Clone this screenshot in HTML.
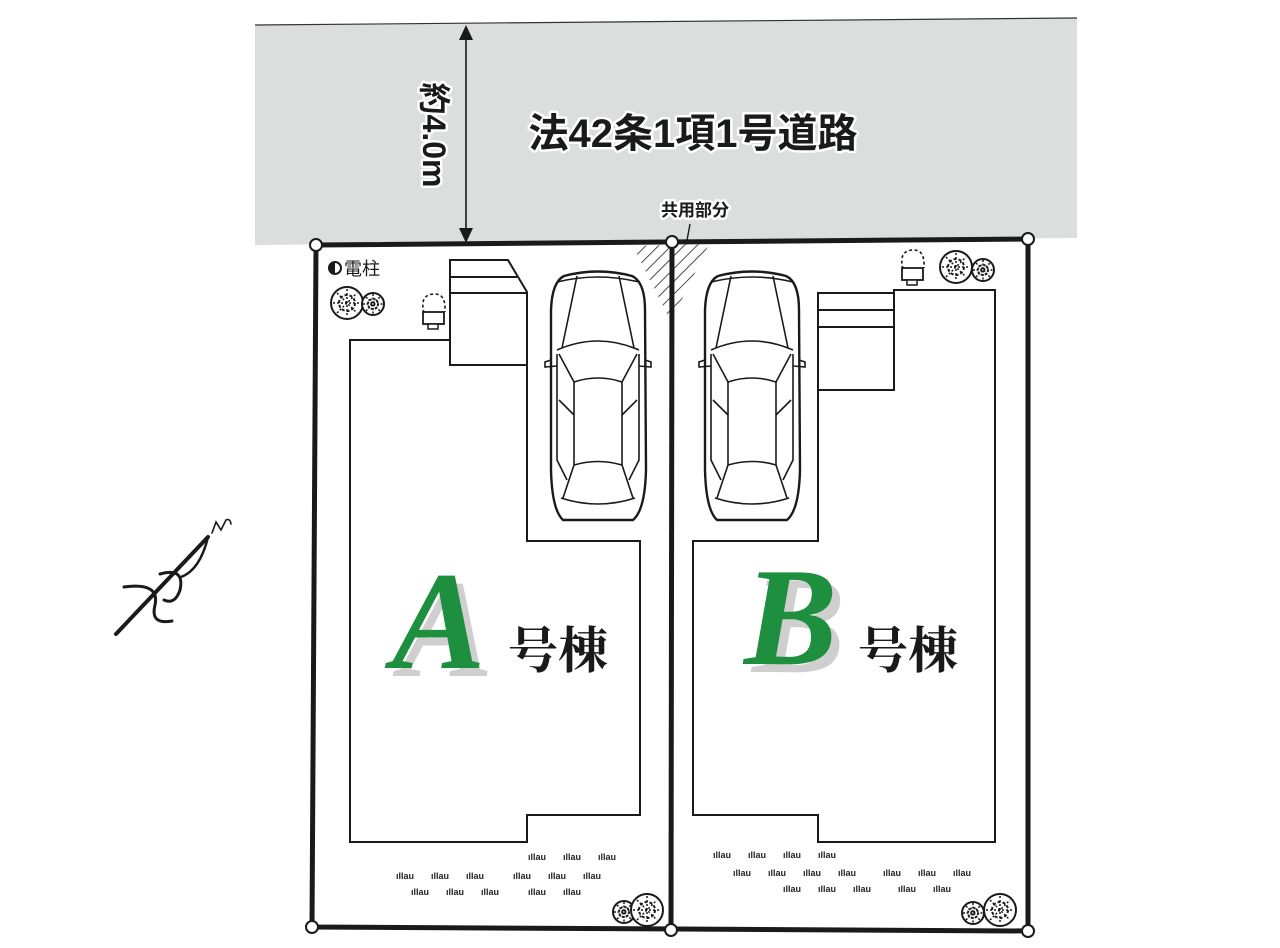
<!DOCTYPE html>
<html><head><meta charset="utf-8"><style>
html,body{margin:0;padding:0;background:#fff;}
svg{display:block;}
.t{font-family:"Liberation Sans","Noto Sans CJK JP",sans-serif;}
.halo{paint-order:stroke;stroke:#fff;stroke-width:5px;stroke-linejoin:round;}
.g{font-family:"Liberation Sans",sans-serif;font-size:9px;font-weight:bold;fill:#222;}
</style></head><body>
<svg width="1280" height="948" viewBox="0 0 1280 948" xmlns="http://www.w3.org/2000/svg">
<defs>
<pattern id="hat" width="9" height="9" patternUnits="userSpaceOnUse" patternTransform="rotate(45)">
<rect width="9" height="9" fill="#fff"/><line x1="0" y1="0" x2="0" y2="9" stroke="#222" stroke-width="1.6"/>
</pattern>
<g id="car" fill="none" stroke="#1a1a1a" stroke-width="1.6">
<path d="M15,6 Q49,-3 83,6 Q96,12 96,40 L97,200 Q96,240 84,250 L14,250 Q3,240 2,200 L2,40 Q3,12 15,6 Z" stroke-width="2.4"/>
<path d="M8,12 Q49,2 90,12"/>
<path d="M28,6 L13,78 M70,6 L85,78"/>
<path d="M8,80 Q49,62 90,80"/>
<path d="M10,84 L25,112 M88,84 L73,112"/>
<path d="M25,112 Q49,104 73,112"/>
<path d="M25,112 L25,195 M73,112 L73,195"/>
<path d="M8,84 L8,190 L18,210 M90,84 L90,190 L80,210"/>
<path d="M10,130 L25,145 M88,130 L73,145"/>
<path d="M25,195 Q49,188 73,195 L84,228 M25,195 L14,228"/>
<path d="M12,228 Q49,240 86,228"/>
<path d="M2,90 L-4,92 L-4,97 L8,96 M96,90 L102,92 L102,97 L90,96"/>
</g>
<g id="tree" fill="#fff" stroke="#1a1a1a">
<circle r="16" stroke-width="2"/>
<path d="M0,-14 L0,14 M-14,0 L14,0 M-10,-10 L10,10 M-10,10 L10,-10" stroke-width="1.5" stroke-dasharray="2 2"/>
<circle r="8" fill="none" stroke-width="2" stroke-dasharray="3 2"/>
</g>
<g id="tree2" fill="#fff" stroke="#1a1a1a">
<circle r="11" stroke-width="2"/>
<path d="M0,-10 L0,10 M-10,0 L10,0 M-7,-7 L7,7 M-7,7 L7,-7" stroke-width="1.5" stroke-dasharray="2 1.5"/>
<circle r="5" fill="none" stroke-width="2" stroke-dasharray="2 2"/>
</g>
<g id="meter" fill="none" stroke="#1a1a1a">
<path d="M-9,13 Q-14,-6 2,-6 Q13,-6 12,12" stroke-width="1.6" stroke-dasharray="3 2.5"/>
<rect x="-10" y="12" width="21" height="12" fill="#fff" stroke-width="1.8"/>
<rect x="-5" y="24" width="10" height="5" fill="#fff" stroke-width="1.5"/>
</g>
</defs>

<polygon points="255,25 1077,18 1077,238 255,245" fill="#dcdddd"/>
<line x1="255" y1="25" x2="1077" y2="18" stroke="#333" stroke-width="1.2"/>

<line x1="466" y1="32" x2="466" y2="236" stroke="#1a1a1a" stroke-width="1.6"/>
<polygon points="466,25 459,40 473,40" fill="#1a1a1a"/>
<polygon points="466,243 459,228 473,228" fill="#1a1a1a"/>
<text class="t halo" transform="translate(423,135) rotate(90)" text-anchor="middle" font-size="32" font-weight="bold" fill="#1a1a1a">約4.0m</text>
<text class="t halo" x="693" y="147" text-anchor="middle" font-size="40" font-weight="bold" fill="#1a1a1a">法42条1項1号道路</text>
<text class="t halo" x="695" y="216" text-anchor="middle" font-size="17" font-weight="bold" fill="#1a1a1a">共用部分</text>
<line x1="690" y1="224" x2="683" y2="262" stroke="#1a1a1a" stroke-width="1.4"/>

<polygon points="633,246 709,244 671,322" fill="url(#hat)"/>

<polygon points="316,245 1028,239 1028,931 312,927" fill="none" stroke="#1a1a1a" stroke-width="5"/>
<line x1="672" y1="242" x2="671" y2="930" stroke="#1a1a1a" stroke-width="5"/>

<polygon points="350,340 450,340 450,365 527,365 527,541 640,541 640,815 527,815 527,842 350,842" fill="none" stroke="#1a1a1a" stroke-width="2"/>
<polygon points="450,260 508,260 527,292 527,365 450,365" fill="#fff" stroke="#1a1a1a" stroke-width="2"/>
<line x1="450" y1="277" x2="517" y2="277" stroke="#1a1a1a" stroke-width="2"/>
<line x1="450" y1="293" x2="527" y2="293" stroke="#1a1a1a" stroke-width="2"/>

<polygon points="894,290 995,290 995,842 818,842 818,815 693,815 693,541 818,541 818,390 894,390" fill="none" stroke="#1a1a1a" stroke-width="2"/>
<rect x="818" y="293" width="76" height="97" fill="#fff" stroke="#1a1a1a" stroke-width="2"/>
<line x1="818" y1="310" x2="894" y2="310" stroke="#1a1a1a" stroke-width="2"/>
<line x1="818" y1="327" x2="894" y2="327" stroke="#1a1a1a" stroke-width="2"/>

<use href="#car" x="549" y="270"/>
<use href="#car" x="703" y="270"/>

<use href="#meter" x="433" y="300"/>
<use href="#meter" x="912" y="256"/>

<use href="#tree" x="347" y="303"/><use href="#tree2" x="373" y="304"/>
<use href="#tree" x="956" y="267"/><use href="#tree2" x="983" y="270"/>
<use href="#tree2" x="624" y="912"/><use href="#tree" x="647" y="910"/>
<use href="#tree2" x="973" y="913"/><use href="#tree" x="1000" y="910"/>

<circle cx="335" cy="268" r="6" fill="#fff" stroke="#1a1a1a" stroke-width="2"/>
<path d="M335,262 A6,6 0 0 0 335,274 Z" fill="#1a1a1a"/>
<text class="t" x="344" y="275" font-size="18" fill="#1a1a1a">電柱</text>

<g class="g">
<text x="528" y="860">ıllau</text><text x="563" y="860">ıllau</text><text x="598" y="860">ıllau</text>
<text x="396" y="879">ıllau</text><text x="431" y="879">ıllau</text><text x="466" y="879">ıllau</text>
<text x="513" y="879">ıllau</text><text x="548" y="879">ıllau</text><text x="583" y="879">ıllau</text>
<text x="411" y="895">ıllau</text><text x="446" y="895">ıllau</text><text x="481" y="895">ıllau</text>
<text x="528" y="895">ıllau</text><text x="563" y="895">ıllau</text>
<text x="713" y="858">ıllau</text><text x="748" y="858">ıllau</text><text x="783" y="858">ıllau</text><text x="818" y="858">ıllau</text>
<text x="733" y="876">ıllau</text><text x="768" y="876">ıllau</text><text x="803" y="876">ıllau</text><text x="838" y="876">ıllau</text>
<text x="883" y="876">ıllau</text><text x="918" y="876">ıllau</text><text x="953" y="876">ıllau</text>
<text x="783" y="892">ıllau</text><text x="818" y="892">ıllau</text><text x="853" y="892">ıllau</text>
<text x="898" y="892">ıllau</text><text x="933" y="892">ıllau</text>
</g>

<text x="400" y="676" font-family="Liberation Serif,serif" font-style="italic" font-weight="bold" font-size="140" fill="#cfcfcf">A</text>
<text x="392" y="668" font-family="Liberation Serif,serif" font-style="italic" font-weight="bold" font-size="140" fill="#1d8f3f">A</text>
<text x="508" y="668" font-family="'Liberation Serif','Noto Serif CJK SC',serif" font-weight="bold" font-size="50" fill="#1a1a1a">号棟</text>
<text x="752" y="672" font-family="Liberation Serif,serif" font-style="italic" font-weight="bold" font-size="140" fill="#cfcfcf">B</text>
<text x="744" y="664" font-family="Liberation Serif,serif" font-style="italic" font-weight="bold" font-size="140" fill="#1d8f3f">B</text>
<text x="858" y="668" font-family="'Liberation Serif','Noto Serif CJK SC',serif" font-weight="bold" font-size="50" fill="#1a1a1a">号棟</text>

<g fill="#fff" stroke="#1a1a1a" stroke-width="2">
<circle cx="316" cy="245" r="6"/><circle cx="672" cy="242" r="6"/><circle cx="1028" cy="239" r="6"/>
<circle cx="312" cy="927" r="6"/><circle cx="671" cy="930" r="6"/><circle cx="1028" cy="931" r="6"/>
</g>

<g fill="none" stroke="#1a1a1a" stroke-linecap="round">
<line x1="116" y1="634" x2="208" y2="537" stroke-width="4"/>
<path d="M124,587 Q160,582 155,605 Q150,625 172,621" stroke-width="3"/>
<path d="M160,574 Q185,567 180,590 Q175,605 164,600" stroke-width="3"/>
<path d="M181,577 Q200,570 208,537" stroke-width="2.5"/>
<path d="M212,533 L216,522 L221,530 L226,520 Q230,518 231,524" stroke-width="1.6"/>
</g>
</svg>
</body></html>
